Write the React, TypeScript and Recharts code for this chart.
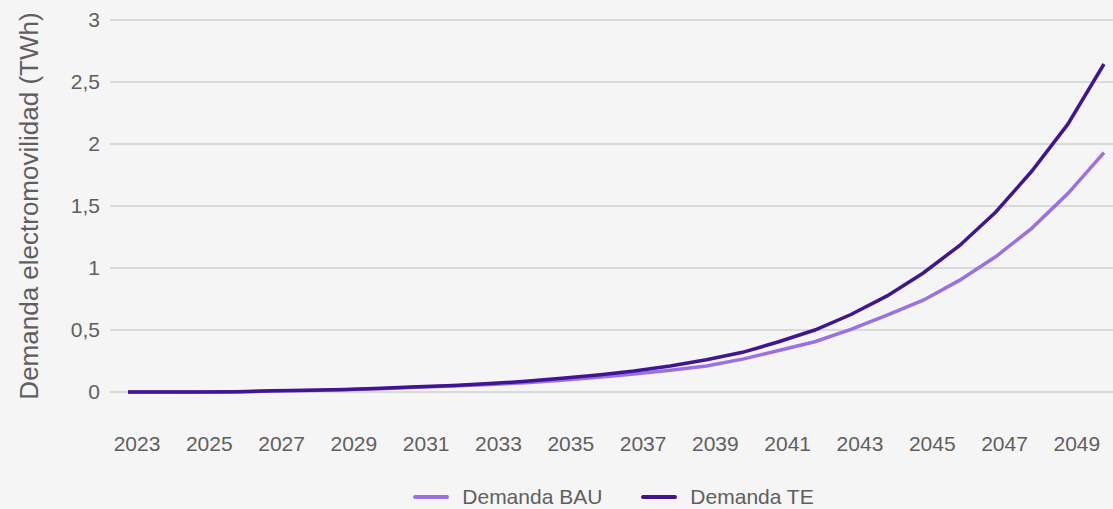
import { LineChart, Line, XAxis, YAxis, CartesianGrid, Legend } from 'recharts';

const years = [
  2023, 2024, 2025, 2026, 2027, 2028, 2029, 2030, 2031, 2032, 2033, 2034, 2035, 2036,
  2037, 2038, 2039, 2040, 2041, 2042, 2043, 2044, 2045, 2046, 2047, 2048, 2049, 2050,
];
const demandaBAU = [
  0, 0, 0, 0, 0.008, 0.012, 0.018, 0.027, 0.038, 0.048, 0.06, 0.075, 0.095, 0.118,
  0.145, 0.175, 0.21, 0.265, 0.335, 0.405, 0.505, 0.62, 0.74, 0.9, 1.09, 1.32, 1.6, 1.93,
];
const demandaTE = [
  0, 0, 0, 0.002, 0.01, 0.015, 0.02, 0.03, 0.043, 0.053, 0.068, 0.086, 0.11, 0.138,
  0.17, 0.21, 0.26, 0.32, 0.405, 0.5, 0.625, 0.775, 0.96, 1.18, 1.45, 1.78, 2.16, 2.645,
];
const xTicks = [2023, 2025, 2027, 2029, 2031, 2033, 2035, 2037, 2039, 2041, 2043, 2045, 2047, 2049];
const yTicks = [0, 0.5, 1, 1.5, 2, 2.5, 3];

const data = years.map((y, i) => ({ year: y, bau: demandaBAU[i], te: demandaTE[i] }));

const BAU_COLOR = '#9a70e4';
const TE_COLOR = '#3f1690';
const FONT = '"Liberation Sans", Arial, sans-serif';

const fmt = (v: number) => String(v).replace('.', ',');

function LegendBox() {
  const items = [
    { label: 'Demanda BAU', color: BAU_COLOR },
    { label: 'Demanda TE', color: TE_COLOR },
  ];
  return (
    <div style={{ display: 'flex', justifyContent: 'center', gap: 39, fontFamily: FONT, fontSize: 21, color: '#5f5f5f', paddingLeft: 114 }}>
      {items.map((it) => (
        <div key={it.label} style={{ display: 'flex', alignItems: 'center' }}>
          <span style={{ display: 'inline-block', width: 36, height: 4, borderRadius: 2, background: it.color, marginRight: 13 }} />
          <span>{it.label}</span>
        </div>
      ))}
    </div>
  );
}

export default function App() {
  return (
    <div style={{ position: 'absolute', left: 0, top: 0, width: 1113, height: 509, background: '#f5f5f5' }}>
      <LineChart width={1113} height={509} data={data} margin={{ top: 20, right: 0, bottom: 0, left: 0 }}>
        <CartesianGrid vertical={false} stroke="#dadada" strokeWidth={2} />
        <XAxis
          dataKey="year"
          type="number"
          domain={[2023, 2050]}
          ticks={xTicks}
          padding={{ left: 18, right: 9 }}
          axisLine={false}
          tickLine={false}
          tickMargin={38}
          height={93}
          tick={{ fill: '#5f5f5f', fontSize: 21, fontFamily: FONT, dx: 9 }}
        />
        <YAxis
          domain={[0, 3]}
          ticks={yTicks}
          width={110}
          axisLine={false}
          tickLine={false}
          tickMargin={4}
          tickFormatter={fmt}
          tick={{ fill: '#5f5f5f', fontSize: 21, fontFamily: FONT }}
          label={{
            value: 'Demanda electromovilidad (TWh)',
            angle: -90,
            position: 'insideLeft',
            offset: 29,
            style: { textAnchor: 'middle', fill: '#5f5f5f', fontSize: 26, fontFamily: FONT },
          }}
        />
        <Legend verticalAlign="bottom" content={() => <LegendBox />} />
        <Line type="linear" dataKey="bau" stroke={BAU_COLOR} strokeWidth={3.5} dot={false} isAnimationActive={false} />
        <Line type="linear" dataKey="te" stroke={TE_COLOR} strokeWidth={3.5} dot={false} isAnimationActive={false} />
      </LineChart>
    </div>
  );
}
